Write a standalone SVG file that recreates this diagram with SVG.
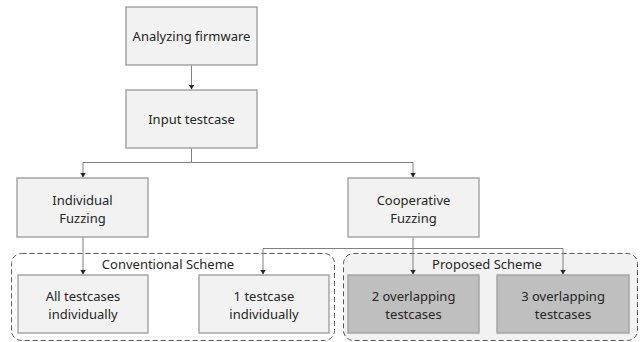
<svg xmlns="http://www.w3.org/2000/svg" width="640" height="342" viewBox="0 0 640 342">
<style>
.box{fill:#f2f2f2;stroke:#a6a6a6;stroke-width:1.5}
.dark{fill:#bfbfbf;stroke:#a6a6a6;stroke-width:1.5}
.grp{stroke:#595959;stroke-width:1;stroke-dasharray:5,3}
.t{font-family:"Noto Sans","Open Sans",sans-serif;font-size:13px;fill:#262626;text-anchor:middle}
.c{fill:none;stroke:#808080;stroke-width:1}
</style>
<defs>
<marker id="ah" markerWidth="6" markerHeight="6" refX="5" refY="3" orient="auto" markerUnits="userSpaceOnUse">
<path d="M0,0 L5,3 L0,6 Z" fill="#262626"/>
</marker>
</defs>
<g id="group-conventional">
<rect class="grp" x="11.5" y="253.5" width="323" height="87" rx="10" fill="#ffffff"/>
<text class="t" x="168" y="269">Conventional Scheme</text>
</g>
<g id="group-proposed">
<rect class="grp" x="343.5" y="253.5" width="294" height="87" rx="10" fill="#f2f2f2"/>
<text class="t" x="487" y="269">Proposed Scheme</text>
</g>
<g id="connectors">
<line class="c" x1="191.5" y1="65" x2="191.5" y2="89.5" marker-end="url(#ah)"/>
<polyline class="c" points="191.5,148 191.5,162.5 83,162.5 83,177.5" marker-end="url(#ah)"/>
<polyline class="c" points="191.5,162.5 413,162.5 413,177.5" marker-end="url(#ah)"/>
<line class="c" x1="83" y1="237" x2="83" y2="274.5" marker-end="url(#ah)"/>
<line class="c" x1="413" y1="237" x2="413" y2="274.5" marker-end="url(#ah)"/>
<polyline class="c" points="413,248.5 563,248.5 563,274.5" marker-end="url(#ah)"/>
<polyline class="c" points="413,248.5 263,248.5 263,274.5" marker-end="url(#ah)"/>
</g>
<g id="analyzing">
<rect class="box" x="126" y="7" width="131" height="58"/>
<text class="t" x="191.5" y="41">Analyzing firmware</text>
</g>
<g id="input">
<rect class="box" x="126" y="90" width="131" height="58"/>
<text class="t" x="191.5" y="124">Input testcase</text>
</g>
<g id="individual">
<rect class="box" x="17" y="178" width="131" height="59"/>
<text class="t" x="82.5" y="205">Individual</text>
<text class="t" x="82.5" y="223">Fuzzing</text>
</g>
<g id="cooperative">
<rect class="box" x="348" y="178" width="131" height="59"/>
<text class="t" x="413.5" y="205">Cooperative</text>
<text class="t" x="413.5" y="223">Fuzzing</text>
</g>
<g id="all-testcases">
<rect class="box" x="18" y="275" width="130" height="58"/>
<text class="t" x="83" y="301">All testcases</text>
<text class="t" x="83" y="319">individually</text>
</g>
<g id="one-testcase">
<rect class="box" x="199" y="275" width="130" height="58"/>
<text class="t" x="264" y="301">1 testcase</text>
<text class="t" x="264" y="319">individually</text>
</g>
<g id="two-overlapping">
<rect class="dark" x="348" y="275" width="131" height="58"/>
<text class="t" x="413.5" y="301">2 overlapping</text>
<text class="t" x="413.5" y="319">testcases</text>
</g>
<g id="three-overlapping">
<rect class="dark" x="497" y="275" width="132" height="58"/>
<text class="t" x="563" y="301">3 overlapping</text>
<text class="t" x="563" y="319">testcases</text>
</g>
</svg>
